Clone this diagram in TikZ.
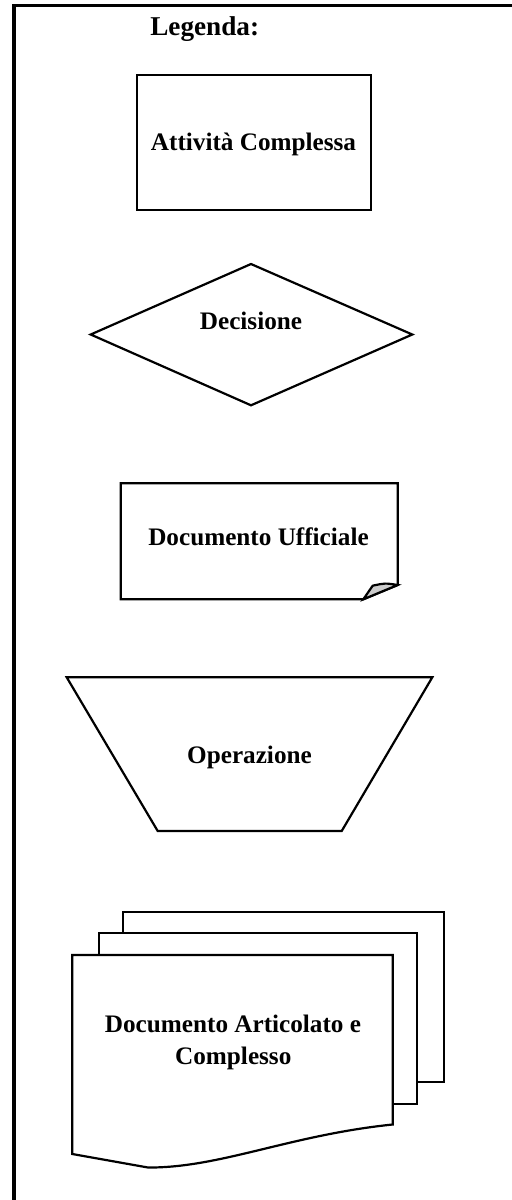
\documentclass[tikz,border=0pt]{standalone}
\usepackage{fontspec}
\setmainfont{Liberation Serif}
\begin{document}
\begin{tikzpicture}[x=0.5pt,y=-0.5pt,line width=1.1pt,
    lbl/.style={font=\bfseries\fontsize{12.6}{16}\selectfont,anchor=base,inner sep=0pt}]
  \useasboundingbox (0,0) rectangle (512,1200);
  % cornice
  \draw[line width=1.9pt] (13.8,1200) -- (13.8,5.5) -- (512,5.5);
  \node[lbl,font=\bfseries\fontsize{13.6}{16}\selectfont] (legenda) at (204.7,35) {Legenda:};

  % attivita complessa
  \draw (137,75) rectangle (371,210);
  \node[lbl] (attivita) at (253.5,150.7) {Attività Complessa};

  % decisione
  \draw (90.7,334.5) -- (251,264) -- (412.3,334.5) -- (251,405.3) -- cycle;
  \node[lbl] (decisione) at (251,329) {Decisione};

  % documento ufficiale
  \draw (120.7,483.3) -- (397.7,483.3) -- (397.7,585) -- (363.3,599.3) -- (120.7,599.3) -- cycle;
  \filldraw[fill=gray!40] (363.3,599.3) -- (372.7,585.7) .. controls (385,583) .. (397.7,585) -- cycle;
  \node[lbl] (docuff) at (258.5,545) {Documento Ufficiale};

  % operazione
  \draw (66.7,677.3) -- (432.3,677.3) -- (341.7,831) -- (157.7,831) -- cycle;
  \node[lbl] (operazione) at (249.5,763.3) {Operazione};

  % documento articolato
  \filldraw[fill=white] (123.3,911.7) rectangle (444.3,1082);
  \filldraw[fill=white] (98.7,932.7) rectangle (417.3,1104.3);
  \filldraw[fill=white] (72.3,955) -- (392.7,955) -- (392.7,1124.5)
    .. controls (290,1135) and (220,1168) .. (148,1167.5) -- (72.3,1154) -- cycle;
  \node[lbl] (articolato) at (233,1032.3) {Documento Articolato e};
  \node[lbl] (complesso) at (233.3,1064.3) {Complesso};
\end{tikzpicture}
\end{document}
